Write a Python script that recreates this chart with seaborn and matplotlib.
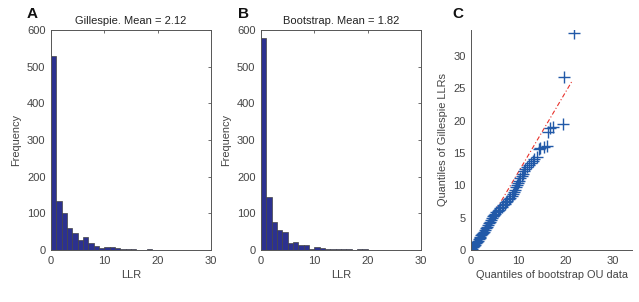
import numpy as np
import pandas as pd
import matplotlib
matplotlib.use("Agg")
import matplotlib.pyplot as plt
import seaborn as sns

# ---------------- data ----------------
bin_edges = list(range(0, 31))  # LLR bins of width 1, 0..30
gillespie_counts = [529, 133, 102, 60, 46, 26, 35, 18, 12, 5,
                    7, 7, 5, 4, 2, 3, 1, 1, 3, 1,
                    0, 0, 0, 0, 0, 0, 1, 0, 0, 0]
bootstrap_counts = [577, 144, 76, 54, 48, 20, 21, 14, 13, 4,
                    9, 5, 3, 3, 3, 2, 4, 1, 2, 3,
                    1, 1, 0, 0, 0, 0, 0, 0, 0, 0]
title_a = "Gillespie. Mean = 2.12"
title_b = "Bootstrap. Mean = 1.82"

# QQ plot: quantiles of bootstrap OU data (x) vs Gillespie LLRs (y)
qq_boot = [0.0, 0.2, 0.4, 0.6, 0.8, 1.0, 1.2, 1.4, 1.6, 1.8,
           2.0, 2.2, 2.4, 2.6, 2.8, 3.0, 3.2, 3.4, 3.6, 3.8,
           4.0, 4.2, 4.4, 4.6, 4.8, 5.0, 5.3, 5.6, 5.9, 6.2,
           6.5, 6.8, 7.1, 7.4, 7.7, 8.0, 8.3, 8.6, 8.9, 9.1,
           9.3, 9.5, 9.7, 9.9, 10.1, 10.4, 10.7, 11.0, 11.2, 11.5,
           11.8, 12.2, 12.6, 13.0, 13.4, 13.9, 14.3, 14.6, 15.4, 16.1,
           16.2, 16.7, 17.3, 19.5, 19.7, 21.7]
qq_gill = [0.0, 0.2, 0.4, 0.65, 0.85, 1.05, 1.25, 1.45, 1.65, 1.85,
           2.05, 2.25, 2.45, 2.65, 2.85, 3.1, 3.35, 3.55, 3.8, 4.1,
           4.35, 4.6, 4.9, 5.2, 5.4, 5.6, 5.85, 6.05, 6.25, 6.45,
           6.65, 6.9, 7.1, 7.35, 7.6, 7.85, 8.05, 8.3, 8.6, 8.9,
           9.3, 9.7, 10.0, 10.4, 10.7, 11.1, 11.4, 11.8, 12.2, 12.5,
           12.9, 13.2, 13.5, 13.7, 14.1, 14.3, 15.6, 15.8, 15.9, 16.1,
           18.2, 18.9, 19.0, 19.4, 26.8, 33.5]
# reference line through the quartiles (endpoints)
ref_x = [0.0, 21.3]
ref_y = [-0.36, 26.05]

# ---------------- style ----------------
sns.set_theme(style="white")
plt.rcParams["font.family"] = ["Liberation Sans", "DejaVu Sans"]
TXT = "#444444"
SP = "#555555"
BAR = "#2c318f"
QQC = "#2159a8"
FS_TICK = 8.0
FS_LAB = 7.9

fig = plt.figure(figsize=(6.39, 3.02), dpi=100)
H = 302.0
W = 639.0
def rect(l, r, t, b):
    return [l / W, (H - b) / H, (r - l) / W, (b - t) / H]

axA = fig.add_axes(rect(51, 211, 30, 250))
axB = fig.add_axes(rect(261, 421, 30, 250))
axC = fig.add_axes(rect(471, 632, 30, 250))

centers = [e + 0.5 for e in bin_edges[:-1]]
for ax, counts, title, letter in [(axA, gillespie_counts, title_a, "A"),
                                  (axB, bootstrap_counts, title_b, "B")]:
    sns.histplot(x=centers, weights=counts, bins=bin_edges, ax=ax,
                 color=BAR, alpha=1.0, edgecolor="#444444", linewidth=0.5)
    ax.set_xlim(0, 30)
    ax.set_ylim(0, 600)
    ax.set_xticks([0, 10, 20, 30])
    ax.set_yticks(range(0, 601, 100))
    ax.set_xlabel("LLR", fontsize=FS_LAB, color=TXT, labelpad=3)
    ax.set_ylabel("Frequency", fontsize=FS_LAB, color=TXT, labelpad=4)
    ax.set_title(title, fontsize=8, color="#222222", pad=4)
    ax.tick_params(direction="in", length=2.5, width=0.6, colors=SP,
                   labelcolor=TXT, labelsize=FS_TICK, top=True, right=True, pad=4)
    for s in ax.spines.values():
        s.set_color(SP)
        s.set_linewidth(0.7)
        s.set_visible(True)

fig.text(27 / W, 1 - 18 / H, "A", fontsize=11, fontweight="bold", color="#111111")
fig.text(238 / W, 1 - 18 / H, "B", fontsize=11, fontweight="bold", color="#111111")
fig.text(452 / W, 1 - 18 / H, "C", fontsize=11, fontweight="bold", color="#111111")

# QQ panel
sns.lineplot(x=ref_x, y=ref_y, ax=axC, color="#e8302a", linestyle=(0, (4, 2, 1, 2)),
             linewidth=0.8, zorder=1)
sns.scatterplot(x=qq_boot, y=qq_gill, ax=axC, marker="+", color=QQC,
                s=70, linewidth=1.0, zorder=2)
axC.set_xlim(0, 34)
axC.set_ylim(0, 34)
axC.set_xticks([0, 10, 20, 30])
axC.set_yticks([0, 5, 10, 15, 20, 25, 30])
axC.set_xlabel("Quantiles of bootstrap OU data", fontsize=FS_LAB, color=TXT, labelpad=3)
axC.set_ylabel("Quantiles of Gillespie LLRs", fontsize=FS_LAB, color=TXT, labelpad=4)
axC.tick_params(direction="in", length=2.5, width=0.6, colors=SP,
                labelcolor=TXT, labelsize=FS_TICK, pad=4)
for k, s in axC.spines.items():
    s.set_color(SP)
    s.set_linewidth(0.7)
axC.spines["top"].set_visible(False)
axC.spines["right"].set_visible(False)

fig.savefig("out.png", dpi=100)
